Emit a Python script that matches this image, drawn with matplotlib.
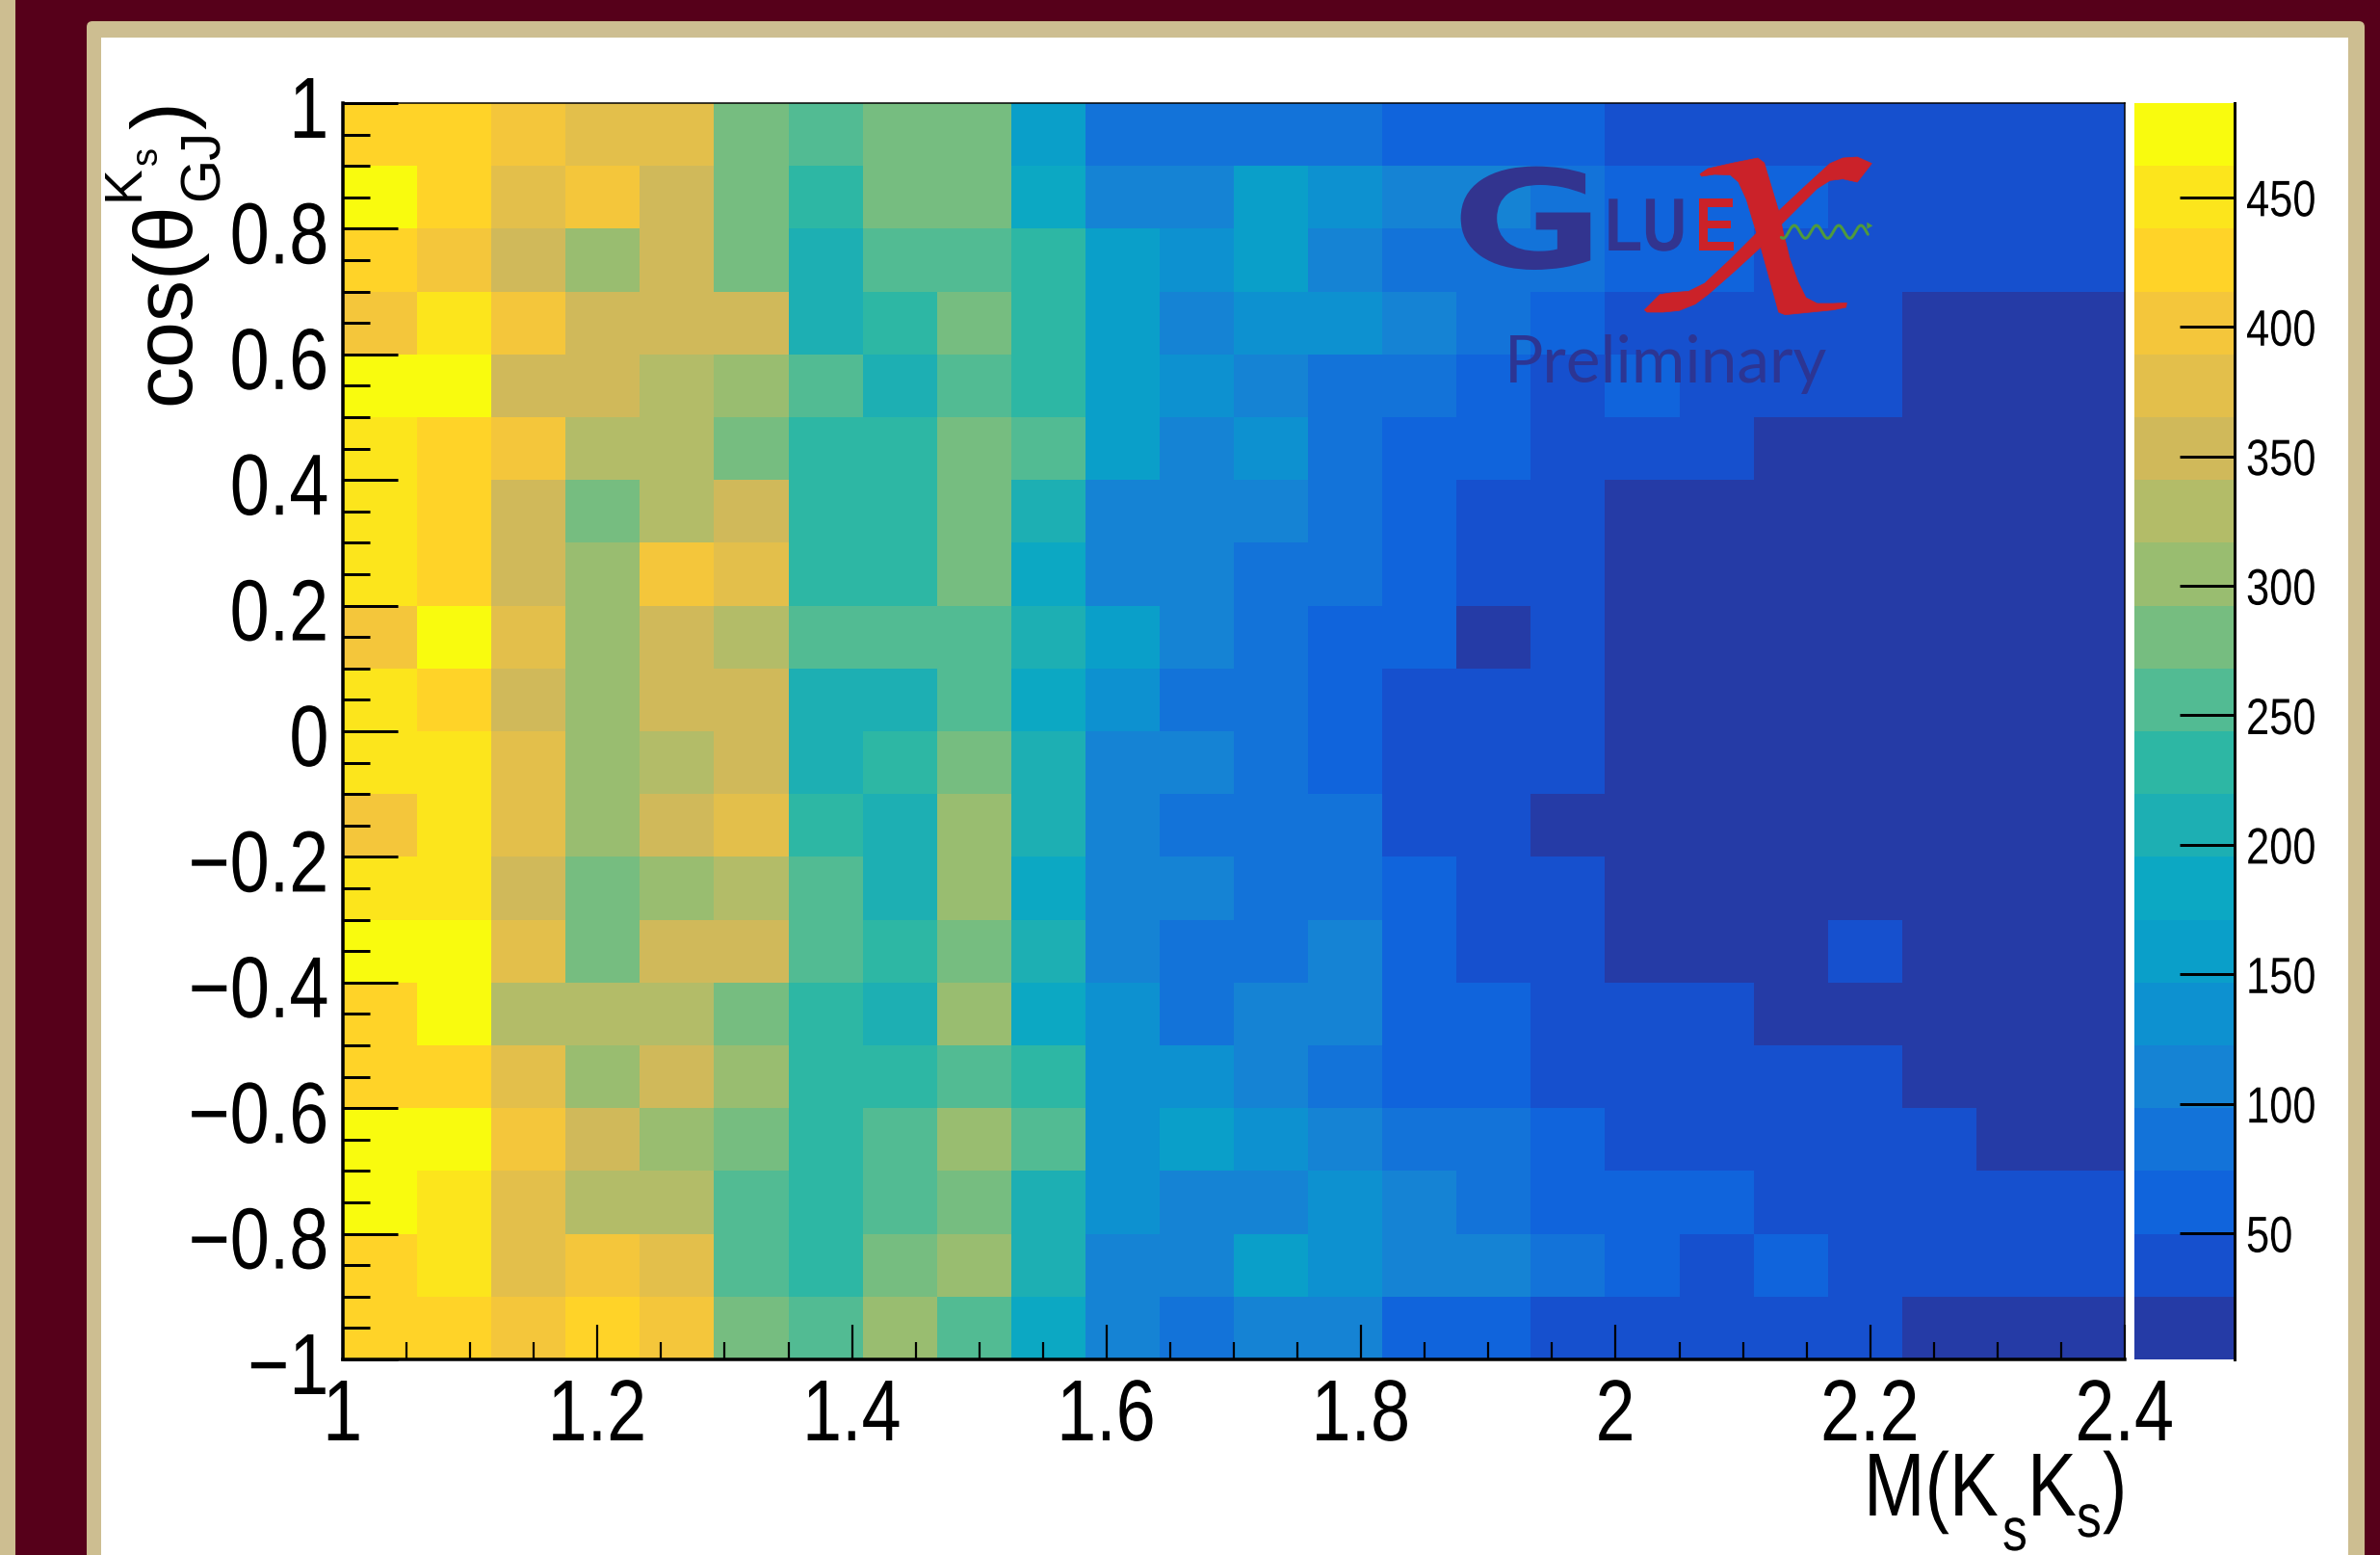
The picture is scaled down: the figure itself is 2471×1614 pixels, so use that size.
import numpy as np
import matplotlib
matplotlib.use("Agg")
import matplotlib.pyplot as plt
from matplotlib.colors import ListedColormap, BoundaryNorm
from matplotlib.patches import Rectangle, FancyBboxPatch, Polygon
from matplotlib.patheffects import AbstractPathEffect
from matplotlib.ticker import MultipleLocator, FixedLocator, FixedFormatter, NullFormatter
from matplotlib.transforms import Affine2D, ScaledTranslation

W, H = 2471, 1615
DPI = 100
REG = ['Liberation Sans', 'DejaVu Sans']

mass_range = (1.0, 2.4)
cos_range = (-1.0, 1.0)
xticks = [1.0, 1.2, 1.4, 1.6, 1.8, 2.0, 2.2, 2.4]
xticklabels = ['1', '1.2', '1.4', '1.6', '1.8', '2', '2.2', '2.4']
yticks = [-1.0, -0.8, -0.6, -0.4, -0.2, 0.0, 0.2, 0.4, 0.6, 0.8, 1.0]
yticklabels = ['\u22121', '\u22120.8', '\u22120.6', '\u22120.4', '\u22120.2', '0', '0.2', '0.4', '0.6', '0.8', '1']
cbar_ticks = [50, 100, 150, 200, 250, 300, 350, 400, 450]
z_range = (1.3, 486.4)
palette = ['#253BA6', '#1650CE', '#1064DC', '#1373D9', '#1583D4', '#0D91D0', '#0A9FC9', '#0CA8C3',
           '#1DAFB3', '#2DB7A4', '#52BB93', '#76BD80', '#99BD70', '#B3BC68', '#D0B95A', '#E3BF4B',
           '#F4C63B', '#FFD328', '#FCE51C', '#F9FB0E']

# counts per bin, top row (cos near +1) first, mass increasing left to right
counts = [
    [426,426,401,377,377,280,256,280,280,159,86,86,86,86,62,62,62,38,38,38,38,38,38,38],
    [474,426,377,401,353,280,232,280,280,183,110,110,159,135,110,110,86,62,62,62,38,38,38,38],
    [426,401,353,304,353,280,207,256,256,232,159,135,159,110,86,86,86,62,62,38,38,38,38,38],
    [401,450,401,353,353,353,207,232,280,232,159,110,135,135,110,86,62,38,38,38,38,13,13,13],
    [474,474,353,353,329,304,256,207,256,232,159,135,110,86,86,62,38,62,38,38,38,13,13,13],
    [450,426,401,329,329,280,232,232,280,256,159,110,135,86,62,62,38,38,38,13,13,13,13,13],
    [450,426,353,280,329,353,232,232,280,207,110,110,110,86,62,38,38,13,13,13,13,13,13,13],
    [450,426,353,304,401,377,232,232,280,183,110,110,86,86,62,38,38,13,13,13,13,13,13,13],
    [401,474,377,304,353,329,256,256,256,207,159,110,86,62,62,13,38,13,13,13,13,13,13,13],
    [450,426,353,304,353,353,207,207,256,183,135,86,86,62,38,38,38,13,13,13,13,13,13,13],
    [450,450,377,304,329,353,207,232,280,207,110,110,86,62,38,38,38,13,13,13,13,13,13,13],
    [401,450,377,304,353,377,232,207,304,207,110,86,86,86,38,38,13,13,13,13,13,13,13,13],
    [450,450,353,280,304,329,256,207,304,183,110,110,86,86,62,38,38,13,13,13,13,13,13,13],
    [474,474,377,280,353,353,256,232,280,207,110,86,86,110,62,38,38,13,13,13,38,13,13,13],
    [426,474,329,329,329,280,232,207,304,183,135,86,110,110,62,62,38,38,38,13,13,13,13,13],
    [426,426,377,304,353,304,232,232,256,232,135,135,110,86,62,62,38,38,38,38,38,13,13,13],
    [474,474,401,353,304,280,232,256,304,256,135,159,135,110,86,86,62,38,38,38,38,38,13,13],
    [474,450,377,329,329,256,232,256,280,207,135,110,110,135,110,86,62,62,62,38,38,38,38,38],
    [426,450,377,401,377,256,232,280,304,207,110,110,159,135,110,110,86,62,38,62,38,38,38,38],
    [426,426,401,426,401,280,256,304,256,183,110,86,110,110,62,62,38,38,38,38,38,13,13,13],
]

class Squeeze(AbstractPathEffect):
    """Scale a text's glyphs along its own writing direction (the reference's type is anisotropic)."""
    def __init__(self, sx, anchor='left'):
        super().__init__()
        self.sx = sx
        self.anchor = anchor

    def draw_path(self, renderer, gc, tpath, affine, rgbFace=None):
        xs = tpath.vertices[:, 0] if len(tpath.vertices) else np.array([0.0])
        xa = {'left': 0.0, 'right': xs.max(), 'center': 0.5 * (xs.min() + xs.max())}[self.anchor]
        local = Affine2D().translate(-xa, 0).scale(self.sx, 1).translate(xa, 0)
        renderer.draw_path(gc, tpath, local + affine, rgbFace)

def px(v):
    return v * 72.0 / DPI

def axes_rect(l, t, r, b):
    return [l / W, 1 - b / H, (r - l) / W, (b - t) / H]

fig = plt.figure(figsize=(W / DPI, H / DPI), dpi=DPI, facecolor='#56001A')

# slide frame
bg = fig.add_axes([0, 0, 1, 1], zorder=0)
bg.set_xlim(0, W); bg.set_ylim(H, 0); bg.axis('off')
BEIGE = '#CDBE91'
bg.add_patch(Rectangle((0, 0), 16, H, fc=BEIGE, ec='none'))
bg.add_patch(FancyBboxPatch((96, 29), 2353, 1700, boxstyle='round,pad=6,rounding_size=6', fc=BEIGE, ec='none'))
bg.add_patch(Rectangle((105, 40), 2333, 1700, fc='white', ec='none'))

# main histogram
ax = fig.add_axes(axes_rect(356, 108, 2206, 1412), zorder=1)
data = np.array(counts[::-1], dtype=float)
xedges = np.linspace(mass_range[0], mass_range[1], data.shape[1] + 1)
yedges = np.linspace(cos_range[0], cos_range[1], data.shape[0] + 1)
levels = np.linspace(z_range[0], z_range[1], len(palette) + 1)
cmap = ListedColormap(palette)
norm = BoundaryNorm(levels, cmap.N)
mesh = ax.pcolormesh(xedges, yedges, data, cmap=cmap, norm=norm, shading='flat')
ax.set_xlim(*mass_range)
ax.set_ylim(*cos_range)

ax.xaxis.set_major_locator(FixedLocator(xticks))
ax.xaxis.set_major_formatter(FixedFormatter(xticklabels))
ax.xaxis.set_minor_locator(MultipleLocator(0.05))
ax.xaxis.set_minor_formatter(NullFormatter())
ax.yaxis.set_major_locator(FixedLocator(yticks))
ax.yaxis.set_major_formatter(FixedFormatter(yticklabels))
ax.yaxis.set_minor_locator(MultipleLocator(0.05))
ax.yaxis.set_minor_formatter(NullFormatter())

ax.tick_params(axis='x', which='major', direction='in', length=px(36), width=px(2.2), pad=px(18), top=False)
ax.tick_params(axis='x', which='minor', direction='in', length=px(18), width=px(2.2), top=False)
ax.tick_params(axis='y', which='major', direction='in', length=px(57), width=px(3), pad=px(14), right=False)
ax.tick_params(axis='y', which='minor', direction='in', length=px(28), width=px(3), right=False)
for lab in ax.get_xticklabels():
    lab.set_fontfamily(REG); lab.set_fontsize(px(90))
    lab.set_path_effects([Squeeze(0.82, 'center')])
for lab in ax.get_yticklabels():
    lab.set_fontfamily(REG); lab.set_fontsize(px(90))
    lab.set_path_effects([Squeeze(0.82, 'right')])
    lab.set_transform(lab.get_transform() + ScaledTranslation(0, -3 / DPI, fig.dpi_scale_trans))
ax.spines['left'].set_linewidth(px(3.5))
ax.spines['bottom'].set_linewidth(px(3.5))
ax.spines['top'].set_linewidth(px(1.5))
ax.spines['right'].set_linewidth(px(1.5))

# colour bar
cax = fig.add_axes(axes_rect(2216, 108, 2320, 1412), zorder=1)
cb = fig.colorbar(mesh, cax=cax, ticks=cbar_ticks, spacing='proportional', drawedges=False)
cb.outline.set_visible(False)
cax.spines['right'].set_visible(True)
cax.spines['right'].set_linewidth(px(3))
cax.tick_params(axis='y', which='major', direction='in', length=px(57), width=px(3), pad=px(12), right=True)
cax.minorticks_off()
cax.set_yticklabels([str(t) for t in cbar_ticks], fontfamily=REG, fontsize=px(53))
for lab in cax.get_yticklabels():
    lab.set_path_effects([Squeeze(0.82, 'left')])

# overlay: labels and logo in pixel coordinates
ov = fig.add_axes([0, 0, 1, 1], zorder=2)
ov.set_xlim(0, W); ov.set_ylim(H, 0); ov.axis('off'); ov.patch.set_alpha(0)

def T(x, y, s, size, fam=REG, rot=0, ha='left', va='baseline', sx=None, **kw):
    t = ov.text(x, y, s, fontsize=px(size), family=fam, rotation=rot, ha=ha, va=va, **kw)
    if sx is not None:
        t.set_path_effects([Squeeze(sx, 'left')])
    return t

# y title: cos(theta^{Ks}_{GJ})
T(214, 420, 'cos(\u03b8', 86, rot=90, ha='left', va='bottom', rotation_mode='anchor')
T(214, 134, ')', 86, rot=90, ha='left', va='bottom', rotation_mode='anchor')
T(156, 208, 'K', 55, rot=90, ha='left', va='bottom', rotation_mode='anchor')
T(171, 171, 's', 38, rot=90, ha='left', va='bottom', rotation_mode='anchor')
T(239, 208, 'GJ', 58, rot=90, ha='left', va='bottom', rotation_mode='anchor')

# x title: M(KsKs)
T(1935, 1574, 'M(K', 93, sx=0.82)
T(2079, 1610, 's', 63, sx=0.82)
T(2105, 1574, 'K', 93, sx=0.82)
T(2156, 1596, 's', 63, sx=0.82)
T(2183, 1574, ')', 93, sx=0.82)

# GlueX logo
def Z(x, y):
    return (1480 + x / 3.0, 130 + y / 3.0)

BLUE = '#32348F'
RED = '#CB2229'
T(1507, 279, 'G', 142, fam=['DejaVu Sans'], color=BLUE, weight='bold', sx=1.36)
T(1666, 261, 'LU', 78, color=BLUE, weight='bold', sx=0.82)
T(1760, 261, 'E', 78, color=RED, weight='bold', sx=0.82)
thick = [(855,155),(880,138),(960,120),(1035,105),(1055,120),(1070,170),(1100,270),(1115,340),(1135,420),
         (1160,490),(1185,540),(1220,558),(1270,558),(1312,556),(1310,570),(1270,578),(1120,593),(1100,585),
         (1085,530),(1045,385),(1030,335),(1000,235),(975,180),(950,158),(900,156),(860,162)]
thin = [(682,578),(730,530),(770,524),(820,520),(870,495),(950,420),(1030,340),(1100,270),(1180,195),(1260,122),
        (1300,105),(1345,102),(1390,122),(1345,180),(1300,170),(1260,175),(1220,200),(1110,310),(1045,382),
        (960,460),(880,530),(840,560),(790,580),(740,585),(690,585)]
ov.add_patch(Polygon([Z(*p) for p in thick], closed=True, fc=RED, ec=RED, lw=0.5))
ov.add_patch(Polygon([Z(*p) for p in thin], closed=True, fc=RED, ec=RED, lw=0.5))
wave_t = np.linspace(0, 1, 200)
ov.plot(1480 + (1108 + 270 * wave_t) / 3.0,
        130 + (335 - 20 * np.cos(2 * np.pi * 3.9 * wave_t + 2.6)) / 3.0,
        color='#4F9A3D', lw=px(3), solid_capstyle='round')
ov.add_patch(Polygon([Z(1375, 305), Z(1393, 316), Z(1375, 326)], closed=True, fc='#4F9A3D', ec='none'))
T(1562, 397, 'Preliminary', 67.5, fam=['Lato', 'DejaVu Sans'], color='#2C3593')

fig.savefig('out.png', dpi=DPI, facecolor=fig.get_facecolor())
